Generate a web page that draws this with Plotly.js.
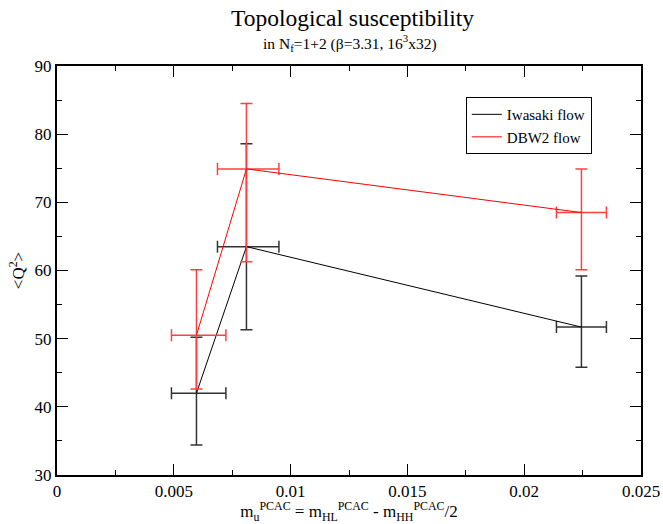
<!DOCTYPE html>
<html>
<head>
<meta charset="utf-8">
<script src="https://cdn.plot.ly/plotly-3.0.1.min.js"></script>
<style>body{margin:0;background:#fff}#c{width:663px;height:524px}</style>
</head>
<body>
<div id="c"></div>
<script>
const xVals = [0.00597, 0.00811, 0.02245];
const xErrPlus = [0.00126, 0.00139, 0.00107];
const xErrMinus = [0.00107, 0.00124, 0.00107];
const iwasakiY = [42.0, 63.5, 51.7];
const iwasakiErrPlus = [8.2, 15.1, 7.5];
const iwasakiErrMinus = [7.6, 12.2, 5.9];
const dbw2Y = [50.5, 74.9, 68.5];
const dbw2ErrPlus = [9.6, 9.6, 6.4];
const dbw2ErrMinus = [7.9, 13.6, 8.4];
const seriesNames = ["Iwasaki flow", "DBW2 flow"];

const serifFamily = "Times New Roman";

const traces = [
  {
    x: xVals, y: iwasakiY, name: seriesNames[0], type: "scatter", mode: "lines",
    line: {color: "#000000", width: 1},
    error_y: {type: "data", symmetric: false, array: iwasakiErrPlus, arrayminus: iwasakiErrMinus, visible: true, color: "#333333", thickness: 1.5, width: 6},
    error_x: {type: "data", symmetric: false, array: xErrPlus, arrayminus: xErrMinus, visible: true, color: "#333333", thickness: 1.5, width: 6}
  },
  {
    x: xVals, y: dbw2Y, name: seriesNames[1], type: "scatter", mode: "lines",
    line: {color: "#ff0000", width: 1},
    error_y: {type: "data", symmetric: false, array: dbw2ErrPlus, arrayminus: dbw2ErrMinus, visible: true, color: "#ff4040", thickness: 1.5, width: 6},
    error_x: {type: "data", symmetric: false, array: xErrPlus, arrayminus: xErrMinus, visible: true, color: "#ff4040", thickness: 1.5, width: 6}
  }
];

const layout = {
  width: 663, height: 524,
  margin: {l: 57, r: 22, t: 66, b: 49},
  paper_bgcolor: "#fff", plot_bgcolor: "#fff",
  font: {family: serifFamily, size: 17, color: "#000"},
  showlegend: true,
  legend: {x: 0.700, y: 0.924, xanchor: "left", yanchor: "top",
    bordercolor: "#000", borderwidth: 1, bgcolor: "#fff",
    font: {family: serifFamily, size: 15, color: "#000"}, itemwidth: 30, tracegroupgap: 0},
  annotations: [
    {text: "Topological susceptibility", xref: "paper", yref: "paper", x: 0.5, y: 1, yshift: 48, xshift: 3, yanchor: "middle",
     showarrow: false, font: {family: serifFamily, size: 23.5, color: "#000"}},
    {text: "in N<sub>f</sub>=1+2 (β=3.31, 16<sup>3</sup>x32)", xref: "paper", yref: "paper", x: 0.5, y: 1, yshift: 23, xshift: 1, yanchor: "middle",
     showarrow: false, font: {family: serifFamily, size: 15.5, color: "#000"}}
  ],
  xaxis: {
    range: [0, 0.025], dtick: 0.005, tick0: 0,
    ticks: "inside", ticklen: 11, tickwidth: 1, tickcolor: "#000",
    showline: true, linewidth: 2, linecolor: "#000", mirror: "ticks",
    showgrid: false, zeroline: false,
    tickfont: {family: serifFamily, size: 17, color: "#000"},
    minor: {ticks: "inside", dtick: 0.0025, tick0: 0, ticklen: 5, tickwidth: 1, tickcolor: "#000", showgrid: false},
    title: {text: "m<sub>u</sub><sup>PCAC</sup> = m<sub>HL</sub><sup>PCAC</sup> - m<sub>HH</sub><sup>PCAC</sup>/2",
      font: {family: serifFamily, size: 17, color: "#000"}, standoff: 0}
  },
  yaxis: {
    range: [30, 90], dtick: 10, tick0: 30,
    ticks: "inside", ticklen: 11, tickwidth: 1, tickcolor: "#000",
    showline: true, linewidth: 2, linecolor: "#000", mirror: "ticks",
    showgrid: false, zeroline: false,
    tickfont: {family: serifFamily, size: 17, color: "#000"},
    minor: {ticks: "inside", dtick: 5, ticklen: 5, tickwidth: 1, tickcolor: "#000", showgrid: false},
    title: {text: "&lt;Q<sup>2</sup>&gt;", font: {family: serifFamily, size: 17, color: "#000"}, standoff: 6}
  }
};

Plotly.newPlot("c", traces, layout, {displayModeBar: false, staticPlot: true});
</script>
</body>
</html>
